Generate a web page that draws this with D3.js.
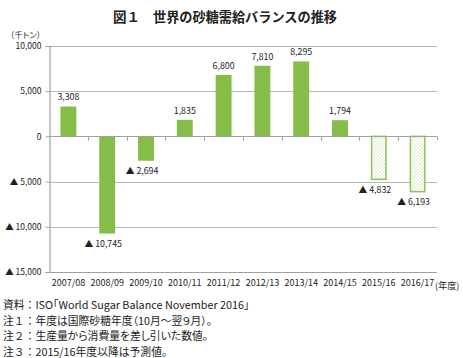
<!DOCTYPE html>
<html><head><meta charset="utf-8">
<script src="https://cdn.jsdelivr.net/npm/d3@7"></script>
<style>body{margin:0;background:#fff}svg{display:block}text{font-family:"Noto Sans CJK JP","Noto Sans",sans-serif}.p{font-feature-settings:"palt"}</style>
</head><body><svg id="c" width="463" height="358"></svg>
<script>
const categories=["2007/08","2008/09","2009/10","2010/11","2011/12","2012/13","2013/14","2014/15","2015/16","2016/17"];
const values=[3308,-10745,-2694,1835,6800,7810,8295,1794,-4832,-6193];
const forecast=[false,false,false,false,false,false,false,false,true,true];
const yTicks=[10000,5000,0,-5000,-10000,-15000];
const titleNum="図１";
const title="世界の砂糖需給バランスの推移";
const unit="（千トン）";
const xSuffix="(年度)";
const noteHeads=["資料：","注１：","注２：","注３："];
const noteBodies=["ISO「World Sugar Balance November 2016」","年度は国際砂糖年度（10月～翌９月）。","生産量から消費量を差し引いた数値。","2015/16年度以降は予測値。"];

const svg=d3.select("#c");
const L=49,R=437,T=46,B=272;
const x=d3.scaleBand().domain(categories).range([L,R]).paddingInner(0.59).paddingOuter(0.295);
const y=d3.scaleLinear().domain([-15000,10000]).range([B,T]);
const fmt=v=>v<0?"▲ "+d3.format(",")(-v):d3.format(",")(v);
const green="#86bd4a";

const defs=svg.append("defs");
const pat=defs.append("pattern").attr("id","hatch").attr("patternUnits","userSpaceOnUse").attr("width",2.5).attr("height",2.5).attr("patternTransform","rotate(45)");
pat.append("rect").attr("width",2.5).attr("height",2.5).attr("fill","#fff");
pat.append("line").attr("x1",0).attr("y1",0).attr("x2",0).attr("y2",2.5).attr("stroke","#c2dfa2").attr("stroke-width",1.1);

svg.append("text").attr("x",113).attr("y",22).attr("font-size",13.5).attr("font-weight","bold").attr("fill","#222").text(titleNum);
svg.append("text").attr("x",153).attr("y",22).attr("font-size",13.2).attr("font-weight","bold").attr("fill","#222")
 .attr("textLength",184).attr("lengthAdjust","spacing").text(title);
svg.append("text").attr("class","p").attr("x",10).attr("y",38).attr("font-size",8.5).attr("fill","#333").text(unit);

// gridlines
svg.append("g").selectAll("line").data(yTicks.filter(d=>d!==0)).join("line")
 .attr("x1",L).attr("x2",R).attr("y1",d=>Math.round(y(d))+0.5).attr("y2",d=>Math.round(y(d))+0.5)
 .attr("stroke","#b8b8b8").attr("stroke-width",1.2);

// y axis
const ya=svg.append("g").attr("transform",`translate(${L+0.5},0)`)
 .call(d3.axisLeft(y).tickValues(yTicks).tickFormat(fmt).tickSize(4).tickPadding(4));
ya.select(".domain").attr("stroke","#a0a0a0").attr("stroke-width",1.2);
ya.selectAll(".tick line").attr("stroke","#a0a0a0");
ya.selectAll("text").attr("font-size",8.5).attr("fill","#222").style("font-family","'Noto Sans CJK JP',sans-serif");

// bars
svg.append("g").selectAll("rect").data(categories).join("rect")
 .attr("x",(d,i)=>x(d)+(forecast[i]?0.75:0))
 .attr("y",(d,i)=>y(Math.max(0,values[i])))
 .attr("width",(d,i)=>x.bandwidth()-(forecast[i]?1.5:0))
 .attr("height",(d,i)=>Math.abs(y(values[i])-y(0))-(forecast[i]?0.75:0))
 .attr("fill",(d,i)=>forecast[i]?"url(#hatch)":green)
 .attr("stroke",(d,i)=>forecast[i]?"#8fc25a":"none")
 .attr("stroke-width",1.5);

// zero axis with category ticks
const za=svg.append("g").attr("transform",`translate(0,${Math.round(y(0))+0.5})`);
za.append("line").attr("x1",L).attr("x2",R).attr("stroke","#a0a0a0").attr("stroke-width",1.2);
const bounds=categories.map((d,i)=>L+(R-L)/categories.length*(i+1));
za.selectAll("line.t").data(bounds).join("line").attr("class","t")
 .attr("x1",d=>Math.round(d)+0.5).attr("x2",d=>Math.round(d)+0.5).attr("y1",0).attr("y2",4).attr("stroke","#a0a0a0");

// value labels
svg.append("g").selectAll("text").data(categories).join("text")
 .attr("x",(d,i)=>x(d)+x.bandwidth()/2+(values[i]<0?-4:0))
 .attr("y",(d,i)=>values[i]>=0?y(values[i])-6:y(values[i])+13)
 .attr("text-anchor","middle").attr("font-size",8.8).attr("fill","#222")
 .text((d,i)=>fmt(values[i]));

// x labels
const xa=svg.append("g").attr("transform",`translate(0,${B})`)
 .call(d3.axisBottom(x).tickSize(0).tickPadding(8));
xa.select(".domain").attr("stroke","#a0a0a0").attr("stroke-width",1.2).attr("d",`M${L},0.5H${R}`);
xa.selectAll("text").attr("font-size",9).attr("fill","#222").style("font-family","'Noto Sans CJK JP',sans-serif");
svg.append("text").attr("class","p").attr("x",x(categories[categories.length-1])+x.bandwidth()/2+17.5).attr("y",B+16.5)
 .attr("font-size",9).attr("fill","#222").text(xSuffix);

const nt=svg.append("g").selectAll("text").data(noteHeads).join("text")
 .attr("x",3).attr("y",(d,i)=>309+i*15.5).attr("font-size",10.8).attr("fill","#222");
nt.append("tspan").text(d=>d);
nt.append("tspan").attr("class","p").text((d,i)=>noteBodies[i]);
</script></body></html>
